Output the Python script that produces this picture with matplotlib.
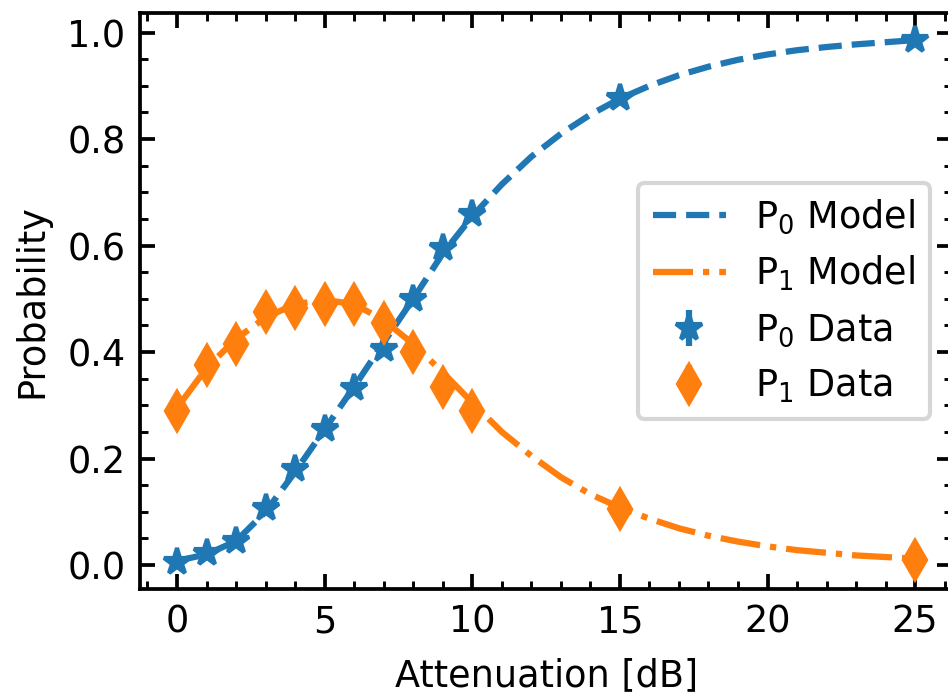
import numpy as np
import matplotlib.pyplot as plt

att = [0, 1, 2, 3, 4, 5, 6, 7, 8, 9, 10, 15, 25]
p0_data = [0.005, 0.022, 0.045, 0.107, 0.180, 0.255, 0.333, 0.405, 0.500, 0.595, 0.660, 0.878, 0.987]
p1_data = [0.290, 0.375, 0.415, 0.475, 0.483, 0.490, 0.490, 0.455, 0.400, 0.335, 0.290, 0.105, 0.010]
p0_err = [0.010, 0.010, 0.010, 0.010, 0.010, 0.010, 0.010, 0.010, 0.010, 0.010, 0.010, 0.010, 0.010]
p1_err = [0.010, 0.010, 0.010, 0.010, 0.010, 0.010, 0.010, 0.010, 0.010, 0.010, 0.010, 0.010, 0.010]

# model curves
att_model = list(range(0, 26))
p0_model = [0.008, 0.020, 0.045, 0.100, 0.175, 0.255, 0.335, 0.418, 0.500, 0.585, 0.655,
            0.715, 0.767, 0.810, 0.846, 0.876, 0.900, 0.920, 0.936, 0.949, 0.959,
            0.967, 0.973, 0.978, 0.982, 0.986]
p1_model = [0.295, 0.370, 0.425, 0.465, 0.490, 0.498, 0.490, 0.460, 0.415, 0.362, 0.305,
            0.250, 0.205, 0.165, 0.133, 0.108, 0.087, 0.069, 0.055, 0.044, 0.035,
            0.028, 0.023, 0.018, 0.015, 0.012]

plt.rcParams['font.size'] = 8.8
plt.rcParams['xtick.direction'] = 'in'
plt.rcParams['ytick.direction'] = 'in'
plt.rcParams['xtick.top'] = True
plt.rcParams['ytick.right'] = True
plt.rcParams['xtick.minor.visible'] = True
plt.rcParams['ytick.minor.visible'] = True
plt.rcParams['xtick.major.size'] = 3.6
plt.rcParams['ytick.major.size'] = 3.6
plt.rcParams['xtick.minor.size'] = 2.0
plt.rcParams['ytick.minor.size'] = 2.0
plt.rcParams['axes.linewidth'] = 0.9
plt.rcParams['xtick.major.width'] = 0.9
plt.rcParams['ytick.major.width'] = 0.9
plt.rcParams['xtick.minor.width'] = 0.7
plt.rcParams['ytick.minor.width'] = 0.7

fig = plt.figure(figsize=(3.16, 2.32), dpi=300)
ax = fig.add_axes([0.1478, 0.1533, 0.8565, 0.8285])

# model curves first, data with error bars on top
ax.plot(att_model, p0_model, '--', color='tab:blue', lw=1.5, label=r'P$_0$ Model')
ax.plot(att_model, p1_model, '-.', color='tab:orange', lw=1.5, label=r'P$_1$ Model')
ax.errorbar(att, p0_data, yerr=p0_err, fmt='*', color='tab:blue', ms=6.5,
            elinewidth=1.5, label=r'P$_0$ Data')
ax.errorbar(att, p1_data, yerr=p1_err, fmt='d', color='tab:orange', ms=6.5,
            elinewidth=1.5, label=r'P$_1$ Data')

ax.set_xlim(-1.25, 26.25)
ax.set_ylim(-0.0456, 1.0375)
ax.set_xticks([0, 5, 10, 15, 20, 25])
ax.set_xticks(np.arange(-1, 27, 1), minor=True)
ax.set_yticks([0.0, 0.2, 0.4, 0.6, 0.8, 1.0])
ax.set_yticks(np.arange(0, 1.05, 0.05), minor=True)
ax.set_xlabel('Attenuation [dB]')
ax.set_ylabel('Probability')
ax.legend(loc='center right', borderaxespad=0.6)

fig.savefig('out.png', dpi=300)
